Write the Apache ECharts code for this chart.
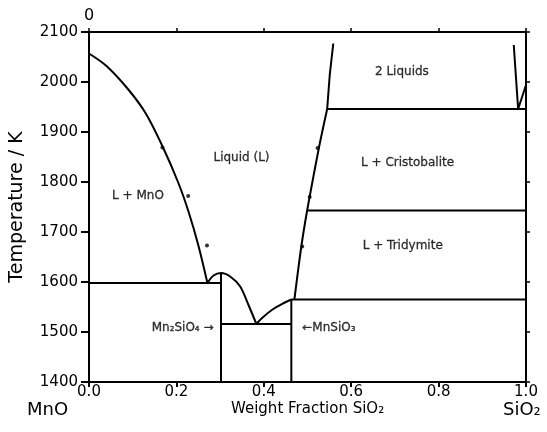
<!DOCTYPE html>
<html>
<head>
<meta charset="utf-8">
<script src="https://cdn.jsdelivr.net/npm/echarts@6/dist/echarts.min.js"></script>
<style>
  html, body { margin: 0; padding: 0; background: #fff; }
  #chart { width: 547px; height: 432px; }
</style>
</head>
<body>
<div id="chart"></div>
<script>
// MnO–SiO2 phase diagram: composition as weight fraction SiO2, temperature in K.

const xTickValues = [0, 0.2, 0.4, 0.6, 0.8, 1.0];
const yTickValues = [1400, 1500, 1600, 1700, 1800, 1900, 2000, 2100];

// Liquidus on the MnO side, down to the MnO / Mn2SiO4 eutectic
const mnoLiquidus = [[0, 2057], [0.04, 2032], [0.09, 1985], [0.13, 1937], [0.17, 1868],
  [0.205, 1797], [0.228, 1740], [0.25, 1674], [0.271, 1598]];
// Mn2SiO4 congruent melting dome, between the two eutectics
const orthosilicateDome = [[0.271, 1598], [0.285, 1613], [0.302, 1618], [0.323, 1611],
  [0.346, 1591], [0.365, 1554], [0.383, 1516]];
// Liquidus from the second eutectic up to the MnSiO3 peritectic
const metasilicateLiquidus = [[0.383, 1516], [0.396, 1528], [0.42, 1545], [0.446, 1558], [0.463, 1565]];
// Liquidus on the SiO2 side (tridymite and cristobalite fields)
const silicaLiquidus = [[0.470, 1565], [0.478, 1620], [0.486, 1672], [0.495, 1722], [0.505, 1771],
  [0.526, 1868], [0.545, 1946]];
// Miscibility gap (2 liquids)
const gapLeftBranch = [[0.545, 1946], [0.551, 2015], [0.559, 2077]];
const gapRightBranch = [[0.972, 2074], [0.982, 1946], [1.0, 1994]];

// Invariant (horizontal) lines and compound verticals
const eutecticMnO = [[0, 1598], [0.302, 1598]];
const eutecticMid = [[0.302, 1516], [0.463, 1516]];
const peritectic = [[0.463, 1565], [1.0, 1565]];
const tridymiteCristobalite = [[0.499, 1743], [1.0, 1743]];
const monotectic = [[0.545, 1946], [1.0, 1946]];
const mn2sio4Line = [[0.302, 1400], [0.302, 1618]];
const mnsio3Line = [[0.463, 1400], [0.463, 1565]];

// Measured liquidus points
const mnoMeasured = [[0.168, 1869], [0.227, 1772], [0.270, 1673]];
const silicaMeasured = [[0.488, 1671], [0.505, 1770], [0.523, 1868]];

// Field names and where they sit (composition, temperature)
const fieldNames = ['Liquid (L)', 'L + MnO', '2 Liquids', 'L + Cristobalite', 'L + Tridymite'];
const fieldAnchors = [[0.349, 1848], [0.112, 1772], [0.716, 2021], [0.729, 1839], [0.718, 1673]];
const compoundNames = ['Mn\u2082SiO\u2084 \u2192', '\u2190MnSiO\u2083'];
const compoundAnchors = [[0.285, 1509], [0.488, 1509]];

const FONT = '"DejaVu Sans", "Liberation Sans", sans-serif';
const INK = '#000';

const boundaryStyle = { color: INK, width: 2 };

function boundary(data, smooth) {
  return {
    type: 'line',
    data: data,
    showSymbol: false,
    smooth: smooth ? 0.3 : false,
    lineStyle: boundaryStyle,
    silent: true,
    z: 3
  };
}

const fieldLabel = {
  show: true,
  position: 'inside',
  formatter: p => p.name,
  fontFamily: FONT,
  fontSize: 12,
  color: INK,
  textBorderColor: INK,
  textBorderWidth: 0.3
};

const series = [
  boundary(mnoLiquidus, true),
  boundary(orthosilicateDome, true),
  boundary(metasilicateLiquidus, true),
  boundary(silicaLiquidus, true),
  boundary(gapLeftBranch, false),
  boundary(gapRightBranch, false),
  boundary(eutecticMnO, false),
  boundary(eutecticMid, false),
  boundary(peritectic, false),
  boundary(tridymiteCristobalite, false),
  boundary(monotectic, false),
  boundary(mn2sio4Line, false),
  boundary(mnsio3Line, false),
  {
    type: 'scatter',
    data: mnoMeasured.concat(silicaMeasured),
    symbol: 'circle',
    symbolSize: 4,
    itemStyle: { color: INK },
    silent: true,
    z: 4
  },
  {
    type: 'scatter',
    data: fieldAnchors.map((p, i) => ({ value: p, name: fieldNames[i] })),
    symbolSize: 0,
    silent: true,
    label: fieldLabel
  },
  {
    type: 'scatter',
    data: compoundAnchors.map((p, i) => ({
      value: p,
      name: compoundNames[i],
      label: { align: i === 0 ? 'right' : 'left' }
    })),
    symbolSize: 0,
    silent: true,
    label: fieldLabel
  }
];

const axisLineStyle = { lineStyle: { color: INK, width: 2 } };

const chart = echarts.init(document.getElementById('chart'), null, { renderer: 'canvas' });
chart.setOption({
  animation: false,
  backgroundColor: '#fff',
  grid: { left: 89, right: 21, top: 32, bottom: 50, containLabel: false },
  xAxis: [
    {
      type: 'value', position: 'bottom',
      min: xTickValues[0], max: xTickValues[xTickValues.length - 1], interval: 0.2,
      axisLine: { show: true, onZero: false, ...axisLineStyle },
      axisTick: { show: true, length: 5, lineStyle: { color: INK, width: 2 } },
      axisLabel: { color: INK, fontFamily: FONT, fontSize: 15, margin: 3,
        formatter: v => v.toFixed(1) },
      splitLine: { show: false }
    },
    {
      type: 'value', position: 'top',
      min: xTickValues[0], max: xTickValues[xTickValues.length - 1], interval: 0.2,
      axisLine: { show: true, onZero: false, ...axisLineStyle },
      axisTick: { show: true, length: 4, lineStyle: { color: INK, width: 1.5 } },
      axisLabel: { color: INK, fontFamily: FONT, fontSize: 16, margin: 8,
        formatter: v => (v === 0 ? '0' : '') },
      splitLine: { show: false }
    }
  ],
  yAxis: [
    {
      type: 'value', position: 'left',
      min: yTickValues[0], max: yTickValues[yTickValues.length - 1], interval: 100,
      name: 'Temperature / K', nameLocation: 'middle', nameGap: 62, nameRotate: 90,
      nameTextStyle: { color: INK, fontFamily: FONT, fontSize: 19 },
      axisLine: { show: true, onZero: false, ...axisLineStyle },
      axisTick: { show: true, length: 8, lineStyle: { color: INK, width: 2 } },
      axisLabel: { color: INK, fontFamily: FONT, fontSize: 15, margin: 11,
        formatter: v => String(v) },
      splitLine: { show: false }
    },
    {
      type: 'value', position: 'right',
      min: yTickValues[0], max: yTickValues[yTickValues.length - 1], interval: 100,
      axisLine: { show: true, onZero: false, ...axisLineStyle },
      axisTick: { show: true, length: 4, lineStyle: { color: INK, width: 1.5 } },
      axisLabel: { show: false },
      splitLine: { show: false }
    }
  ],
  graphic: [
    { type: 'text', left: 27, top: 401,
      style: { text: 'MnO', fontFamily: FONT, fontSize: 18, fill: INK } },
    { type: 'text', left: 231, top: 402,
      style: { text: 'Weight Fraction SiO\u2082', fontFamily: FONT, fontSize: 15, fill: INK } },
    { type: 'text', left: 503, top: 401,
      style: { text: 'SiO\u2082', fontFamily: FONT, fontSize: 18, fill: INK } }
  ],
  series: series
});
</script>
</body>
</html>
